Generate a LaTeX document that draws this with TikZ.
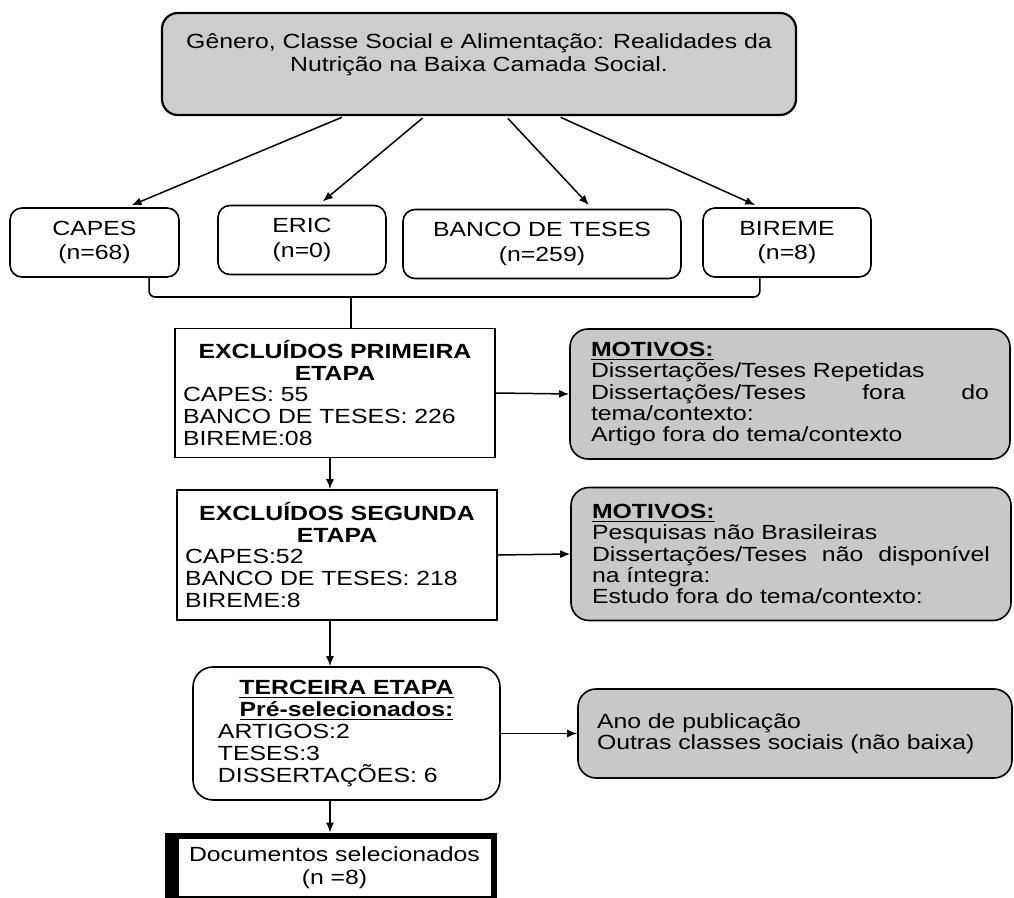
\documentclass[tikz,border=0pt]{standalone}
\usepackage{fontspec}
\setmainfont{Liberation Sans}[FakeStretch=1.21]
\usepackage{tikz}
\usetikzlibrary{arrows.meta, calc}

\definecolor{boxgray}{HTML}{CDCDCD}
\definecolor{reasongray}{HTML}{C8C8C8}

\tikzset{
  titlebox/.style={draw, line width=1.1pt, fill=boxgray, rounded corners=8pt,
    minimum width=317pt, minimum height=51pt},
  srcbox/.style={draw, line width=0.8pt, rounded corners=6pt, align=center,
    font=\fontsize{10.25}{12.25}\selectfont, minimum height=34.5pt},
  stagebox/.style={draw, line width=0.8pt, inner xsep=4pt, text width=152pt},
  reasonbox/.style={draw, line width=0.8pt, fill=reasongray, rounded corners=9pt,
    inner xsep=10.5pt, text width=199pt, font=\fontsize{10.25}{10.6}\selectfont},
  flow/.style={-{Latex[length=5pt,width=4pt]}, line width=0.75pt},
}

\begin{document}
\begin{tikzpicture}[x=0.5pt, y=-0.5pt, font=\fontsize{10.25}{10.9}\selectfont]
    \useasboundingbox (0,0) rectangle (1014,898);

    % title
    \node[titlebox] (title) at (479,64) {};
    \node[align=center, font=\fontsize{10.25}{11.5}\selectfont] (titletext) at (479,55)
        {Gênero, Classe Social e Alimentação: Realidades da\\Nutrição na Baixa Camada Social.};

    % sources
    \node[srcbox, minimum width=84.5pt] (capes) at (94.5,242.5) {CAPES\\(n=68)};
    \node[srcbox, minimum width=84pt] (eric) at (302,240) {ERIC\\(n=0)};
    \node[srcbox, minimum width=139pt] (banco) at (542,244) {BANCO DE TESES\\(n=259)};
    \node[srcbox, minimum width=84pt] (bireme) at (787,242.5) {BIREME\\(n=8)};

    \draw[flow, shorten <=1.5pt, shorten >=2.5pt] ($(title.south west)!0.289!(title.south east)$) -- ($(capes.north west)!0.69!(capes.north east)$);
    \draw[flow, shorten <=1.5pt, shorten >=2.5pt] ($(title.south west)!0.415!(title.south east)$) -- ($(eric.north west)!0.6!(eric.north east)$);
    \draw[flow, shorten <=1.5pt, shorten >=2.5pt] ($(title.south west)!0.542!(title.south east)$) -- ($(banco.north west)!0.68!(banco.north east)$);
    \draw[flow, shorten <=1.5pt, shorten >=2.5pt] ($(title.south west)!0.624!(title.south east)$) -- ($(bireme.north west)!0.34!(bireme.north east)$);

    % first stage
    \node[stagebox, minimum height=64.5pt] (ex1) at (335,393)
        {{\centering\bfseries EXCLUÍDOS PRIMEIRA\\ETAPA\par}\raggedright
         CAPES: 55\\BANCO DE TESES: 226\\BIREME:08};
    \node[reasonbox, minimum height=65pt] (mot1) at (790,394)
        {\raggedright\underline{\textbf{MOTIVOS:}}\\
         Dissertações/Teses Repetidas\\
         Dissertações/Teses\hfill fora\hfill do\\
         tema/contexto:\\
         Artigo fora do tema/contexto};

    % brace under the sources
    \coordinate (bl) at ($(capes.south west)!0.82!(capes.south east)$);
    \coordinate (br) at ($(bireme.south west)!0.34!(bireme.south east)$);
    \coordinate (bmid) at (351,297);
    \draw[line width=0.8pt, rounded corners=3pt] (bl) |- (bmid) -| (br);
    \draw[line width=0.8pt] (bmid) -- (bmid |- ex1.north);

    % second stage
    \node[stagebox, minimum height=65pt] (ex2) at (337,555)
        {{\centering\bfseries EXCLUÍDOS SEGUNDA\\ETAPA\par}\raggedright
         CAPES:52\\BANCO DE TESES: 218\\BIREME:8};
    \node[reasonbox, minimum height=66.5pt] (mot2) at (791,554)
        {\raggedright\underline{\textbf{MOTIVOS:}}\\
         Pesquisas não Brasileiras\\
         Dissertações/Teses\hfill não\hfill disponível\\
         na íntegra:\\
         Estudo fora do tema/contexto:};

    % third stage
    \node[draw, line width=0.8pt, rounded corners=10pt, inner xsep=12.5pt, text width=128.5pt,
          minimum height=66.5pt] (ter) at (346.5,733.5)
        {{\centering\bfseries\underline{TERCEIRA ETAPA}\\\underline{Pré-selecionados:}\par}\raggedright
         ARTIGOS:2\\TESES:3\\DISSERTAÇÕES: 6};
    \node[reasonbox, inner xsep=9.5pt, text width=198pt, minimum height=44.5pt,
          font=\fontsize{10.25}{10.5}\selectfont] (mot3) at (795,733.5)
        {\raggedright Ano de publicação\\Outras classes sociais (não baixa)};

    % selected documents
    \node[fill=black, minimum width=166pt, minimum height=32.5pt] (doc) at (331,865.5) {};
    \node[fill=white, minimum width=156pt, minimum height=28.5pt, inner sep=0pt, align=center,
          font=\fontsize{10.25}{11.5}\selectfont] (doctext) at (334.5,867.5)
        {Documentos selecionados\\(n =8)};

    % connectors
    \coordinate (spine) at (330,0);
    \draw[flow] (spine |- ex1.south) -- (spine |- ex2.north);
    \draw[flow] (spine |- ex2.south) -- (spine |- ter.north);
    \draw[flow] (spine |- ter.south) -- (spine |- doc.north);
    \draw[flow] (ex1.east) -- (mot1.west);
    \draw[flow] (ex2.east) -- (mot2.west);
    \draw[flow] (ter.east) -- (mot3.west);
\end{tikzpicture}
\end{document}
